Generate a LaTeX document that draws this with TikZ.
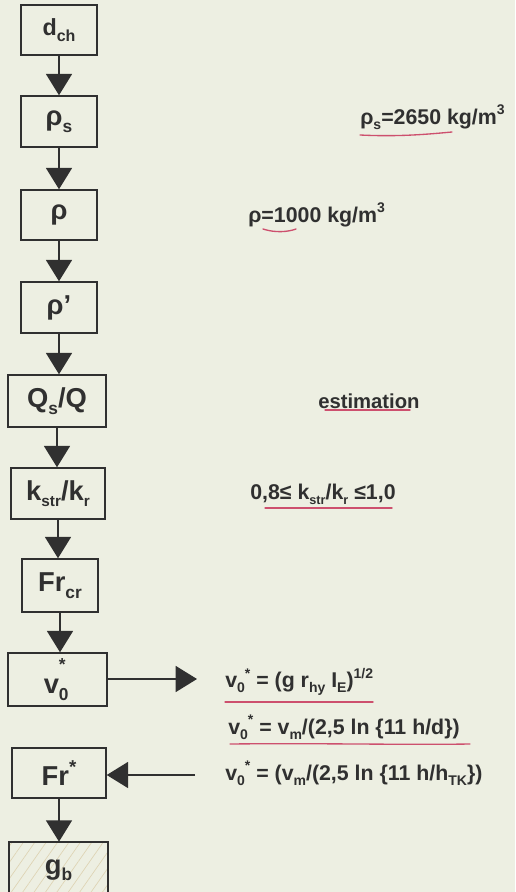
\documentclass[tikz,border=0pt]{standalone}
\usepackage{fontspec}
\setmainfont{Liberation Sans}
\usetikzlibrary{arrows.meta,patterns.meta}
\definecolor{paper}{RGB}{237,239,226}
\definecolor{ink}{RGB}{48,48,48}
\definecolor{redpen}{RGB}{205,80,110}
\definecolor{hatchc}{RGB}{222,212,180}
\newcommand\lo[2][10.5]{\raisebox{-0.45ex}{\fontsize{#1}{#1}\selectfont #2}}
\newcommand\hi[2][10.5]{\raisebox{0.85ex}{\fontsize{#1}{#1}\selectfont #2}}
\begin{document}
\begin{tikzpicture}[x=0.75pt,y=-0.75pt,
  box/.style={draw=ink,line width=1.1pt,inner sep=0pt,text=ink,font=\fontsize{20.5}{22}\selectfont\bfseries},
  arr/.style={draw=ink,line width=1.1pt,-{Triangle[width=19.5pt,length=16pt]}},
  txt/.style={anchor=west,inner sep=0pt,text=ink,font=\fontsize{16}{18}\selectfont\bfseries},
  pen/.style={draw=redpen,line width=1pt,line cap=round}]
\fill[paper] (0,0) rectangle (515,892);
\useasboundingbox (0,0) rectangle (515,892);
% boxes
\node[box,minimum width=57pt,minimum height=37.5pt,font=\fontsize{17.5}{18}\selectfont\bfseries] (dch) at (59,30) {d\lo[12]{ch}};
\node[box,minimum width=57pt,minimum height=38.25pt] (rhos) at (59,121.5) {ρ\lo[13]{s}};
\node[box,minimum width=57pt,minimum height=37.5pt] (rho) at (59,215) {ρ};
\node[box,minimum width=57pt,minimum height=38.25pt] (rhop) at (59,307.5) {ρ'};
\node[box,minimum width=73.5pt,minimum height=39pt] (qsq) at (57,401) {Q\lo[13]{s}/Q};
\node[box,minimum width=70.5pt,minimum height=38.25pt] (kk) at (58,493.5) {k\lo[11.5]{str}/k\lo[11.5]{r}};
\node[box,minimum width=57pt,minimum height=39.75pt] (frcr) at (60,585.5) {Fr\lo[13]{cr}};
\node[box,minimum width=74.25pt,minimum height=39.75pt] (vo) at (57.5,679.5) {v\rlap{\lo[13]{0}}\raisebox{1.6ex}{\fontsize{13}{12}\selectfont *}\kern0.2em};
\node[box,minimum width=70.5pt,minimum height=37.5pt] (frs) at (59,773) {Fr\hi[14]{*}};
\node[box,minimum width=74.25pt,minimum height=42pt,pattern={Lines[angle=55,distance=7pt,line width=0.5pt]},pattern color=hatchc] (gb) at (58.5,870) {g\lo[13]{b}};
% vertical connectors
\foreach \a/\b in {dch/rhos,rhos/rho,rho/rhop,rhop/qsq,qsq/kk,kk/frcr,frcr/vo,frs/gb}
  \draw[arr] (\a.south) -- (\a.south |- \b.north);
% horizontal connectors
\coordinate (c1) at (197,679);
\coordinate (c2) at (195,775);
\draw[arr] (vo.east |- c1) -- (c1);
\draw[arr] (c2) -- (c2 -| frs.east);
% texts
\node[txt] (t1) at (360,117) {ρ\lo{s}=2650 kg/m\hi{3}};
\node[txt] (t2) at (248,215) {ρ=1000 kg/m\hi{3}};
\node[txt,font=\fontsize{15.2}{18}\selectfont\bfseries] (t3) at (318,401) {estimation};
\node[txt] (t4) at (250,494) {0,8≤ k\lo[9.5]{str}/k\lo[9.5]{r} ≤1,0};
\node[txt] (t5) at (225,682) {v\lo{0}\hi{*} = (g r\lo{hy} I\lo{E})\hi{1/2}};
\node[txt] (t6) at (228,727) {v\lo{0}\hi{*} = v\lo{m}/(2,5 ln \{11 h/d\})};
\node[txt] (t7) at (225,773) {v\lo{0}\hi{*} = (v\lo{m}/(2,5 ln \{11 h/h\lo{TK}\})};
% red pen underlines
\draw[pen] (360,135) .. controls (400,137) and (430,134) .. (452,132);
\draw[pen] (263,229) .. controls (275,233) and (288,232) .. (296,229);
\draw[pen] (325,410) -- (410,410);
\draw[pen] (265,508) -- (392,508);
\draw[pen] (225,702) -- (373,702);
\draw[pen] (230,744) .. controls (320,743) and (400,745) .. (470,744);
\end{tikzpicture}
\end{document}
